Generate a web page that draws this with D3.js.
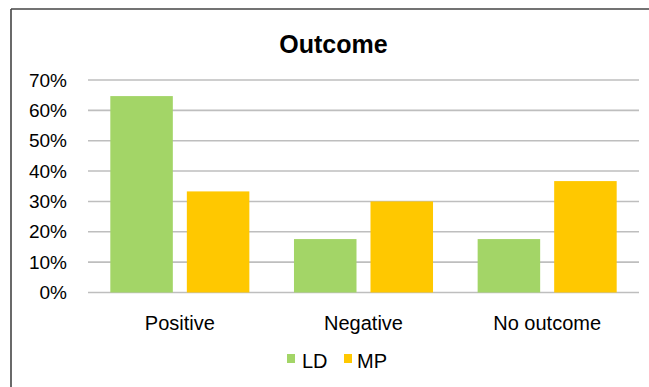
<!DOCTYPE html>
<html>
<head>
<meta charset="utf-8">
<script src="https://cdn.jsdelivr.net/npm/d3@7"></script>
<style>
  html, body { margin: 0; padding: 0; background: #fff; }
  svg { display: block; font-family: "Liberation Sans", Arial, sans-serif; }
</style>
</head>
<body>
<svg id="chart" width="649" height="387"></svg>
<script>
// Share of cases by outcome, per group
const categories = ["Positive", "Negative", "No outcome"];
const seriesNames = ["LD", "MP"];
const ldValues = [0.647, 0.176, 0.176];
const mpValues = [0.333, 0.300, 0.367];
const yTicks = [0, 0.1, 0.2, 0.3, 0.4, 0.5, 0.6, 0.7];
const colors = { LD: "#A3D567", MP: "#FFC800" };

const rows = categories.map((c, i) => ({ category: c, LD: ldValues[i], MP: mpValues[i] }));

const svg = d3.select("#chart");

// frame lines (top and left)
svg.append("line").attr("x1", 11).attr("x2", 649).attr("y1", 9).attr("y2", 9)
  .attr("stroke", "#444").attr("stroke-width", 1.6);
svg.append("line").attr("x1", 11).attr("x2", 11).attr("y1", 9).attr("y2", 387)
  .attr("stroke", "#444").attr("stroke-width", 1.6);

const plot = { left: 88, right: 639, top: 80, bottom: 292.5 };

const x0 = d3.scaleBand().domain(categories)
  .range([plot.left, plot.right]).paddingInner(0.243).paddingOuter(0.1215);
const x1 = d3.scaleBand().domain(seriesNames)
  .range([0, x0.bandwidth()]).paddingInner(0.183);
const y = d3.scaleLinear().domain([0, 0.7]).range([plot.bottom, plot.top]);

// gridlines
svg.append("g").selectAll("line").data(yTicks).join("line")
  .attr("x1", plot.left).attr("x2", plot.right)
  .attr("y1", d => y(d)).attr("y2", d => y(d))
  .attr("stroke", "#BEBEBE").attr("stroke-width", 1.6);

// y axis labels
const yAxis = d3.axisLeft(y).tickValues(yTicks).tickFormat(d3.format(".0%")).tickSize(0).tickPadding(0);
const yg = svg.append("g").attr("transform", "translate(67,0)").call(yAxis);
yg.select(".domain").remove();
yg.selectAll("text").attr("font-size", 19).attr("fill", "#000")
  .attr("font-family", "'Liberation Sans', Arial, sans-serif");

// bars
const groups = svg.append("g").selectAll("g").data(rows).join("g")
  .attr("transform", d => `translate(${x0(d.category)},0)`);
groups.selectAll("rect").data(d => seriesNames.map(k => ({ key: k, value: d[k] }))).join("rect")
  .attr("x", d => x1(d.key))
  .attr("width", x1.bandwidth())
  .attr("y", d => y(d.value))
  .attr("height", d => y(0) - y(d.value))
  .attr("fill", d => colors[d.key]);

// category labels
const xAxis = d3.axisBottom(x0).tickSize(0).tickPadding(0);
const xg = svg.append("g").attr("transform", `translate(0,${plot.bottom})`).call(xAxis);
xg.select(".domain").remove();
xg.selectAll("text").attr("font-size", 20).attr("fill", "#000")
  .attr("font-family", "'Liberation Sans', Arial, sans-serif")
  .attr("dy", null).attr("y", 37);

// title
svg.append("text").attr("x", 333.5).attr("y", 53).attr("text-anchor", "middle")
  .attr("font-size", 25).attr("font-weight", "bold").attr("fill", "#000").text("Outcome");

// legend
const legendPos = [{ sx: 287, tx: 302 }, { sx: 344, tx: 357 }];
const legend = svg.append("g").selectAll("g").data(seriesNames).join("g");
legend.append("rect")
  .attr("x", (d, i) => legendPos[i].sx).attr("y", 354)
  .attr("width", 8).attr("height", 9)
  .attr("fill", d => colors[d]);
legend.append("text")
  .attr("x", (d, i) => legendPos[i].tx).attr("y", 368)
  .attr("font-size", 20).attr("fill", "#000").text(d => d);
</script>
</body>
</html>
